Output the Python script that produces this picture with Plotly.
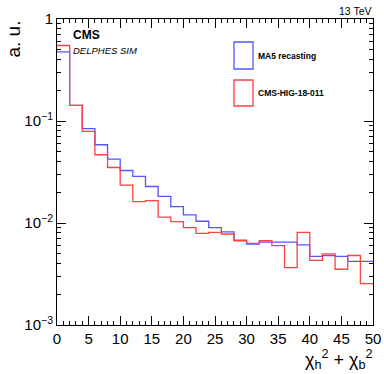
import plotly.graph_objects as go

# histogram bins (width 2) from 0 to 50
bin_edges = [2 * i for i in range(26)]

ma5_values = [0.476, 0.142, 0.084, 0.0585, 0.0423, 0.0327, 0.0286, 0.0228, 0.0182, 0.0145,
              0.0120, 0.0104, 0.0090, 0.0082, 0.0068, 0.0062, 0.0065, 0.0065, 0.0065, 0.0061,
              0.0047, 0.0048, 0.0047, 0.0042, 0.0042]
cms_values = [0.55, 0.142, 0.079, 0.0467, 0.0350, 0.0235, 0.0162, 0.0166, 0.0114, 0.0103,
              0.0090, 0.0079, 0.0081, 0.0078, 0.0067, 0.0063, 0.0067, 0.0060, 0.00365, 0.0081,
              0.0043, 0.00497, 0.00352, 0.0048, 0.00254]

series_names = ['MA5 recasting', 'CMS-HIG-18-011']
series_colors = ['rgb(85,85,255)', 'rgb(255,65,65)']

x_ticks = [0, 5, 10, 15, 20, 25, 30, 35, 40, 45, 50]
y_ticks = [0.001, 0.01, 0.1, 1]
y_ticktext = ['10<sup>\u22123</sup>', '10<sup>\u22122</sup>', '10<sup>\u22121</sup>', '1']
y_minor = [m * d for d in (0.001, 0.01, 0.1) for m in range(2, 10)]

W, H = 384, 374
L, R, T, B = 57, 11, 19, 49
PW, PH = W - L - R, H - T - B


def px(x):
    return (x - L) / PW


def py(y):
    return (H - B - y) / PH


FONT = 'Liberation Sans, Arial, sans-serif'

fig = go.Figure()
for vals, name, col in zip([ma5_values, cms_values], series_names, series_colors):
    fig.add_trace(go.Scatter(x=bin_edges, y=vals + [vals[-1]], mode='lines',
                             line=dict(color=col, width=1.3, shape='hv'),
                             name=name, hoverinfo='skip'))

fig.update_layout(
    width=W, height=H,
    margin=dict(l=L, r=R, t=T, b=B, autoexpand=False),
    paper_bgcolor='white', plot_bgcolor='white',
    showlegend=False,
    font=dict(family=FONT, color='black'),
)

fig.update_xaxes(range=[0, 50], tickvals=x_ticks, ticks='inside', ticklen=9, tickwidth=1,
                 tickcolor='black', showline=True, linecolor='black', linewidth=1,
                 mirror='ticks', showgrid=False, zeroline=False, automargin=False,
                 tickfont=dict(size=15, family=FONT),
                 minor=dict(dtick=1, ticks='inside', ticklen=4, tickcolor='black', showgrid=False))

fig.update_yaxes(type='log', range=[-3, 0], tickvals=y_ticks, ticktext=y_ticktext,
                 ticks='inside', ticklen=9, tickwidth=1, tickcolor='black',
                 showline=True, linecolor='black', linewidth=1, mirror='ticks',
                 showgrid=False, zeroline=False, automargin=False,
                 tickfont=dict(size=15, family=FONT),
                 minor=dict(tickvals=y_minor, ticks='inside', ticklen=4, tickcolor='black',
                            showgrid=False))

annots = [
    dict(text='a. u.', x=px(13), y=py(19), xanchor='center', yanchor='top', textangle=-90,
         font=dict(size=19)),
    dict(text='\u03c7<sub>h</sub><sup>2</sup> + \u03c7<sub>b</sub><sup>2</sup>', x=px(374), y=py(374),
         xanchor='right', yanchor='bottom', font=dict(size=18)),
    dict(text='<b>CMS</b>', x=px(71), y=py(35), xanchor='left', yanchor='middle',
         font=dict(size=12)),
    dict(text='<i>DELPHES SIM</i>', x=px(71), y=py(51), xanchor='left', yanchor='middle',
         font=dict(size=9.5)),
    dict(text='13 TeV', x=px(374), y=py(11), xanchor='right', yanchor='middle',
         font=dict(size=10.5)),
    dict(text='<b>MA5 recasting</b>', x=px(256), y=py(56), xanchor='left', yanchor='middle',
         font=dict(size=8.5)),
    dict(text='<b>CMS-HIG-18-011</b>', x=px(256), y=py(93), xanchor='left', yanchor='middle',
         font=dict(size=8.5)),
]
for a in annots:
    fig.add_annotation(xref='paper', yref='paper', showarrow=False, **a)

# legend boxes
for (top, bot), col in zip([(42, 69), (80, 106)], series_colors):
    fig.add_shape(type='rect', xref='paper', yref='paper', x0=px(234), x1=px(253),
                  y0=py(bot), y1=py(top), line=dict(color=col, width=1.3))

fig.write_html("out.html", config={'displayModeBar': False},
               post_script="document.body.style.margin='0px';")
